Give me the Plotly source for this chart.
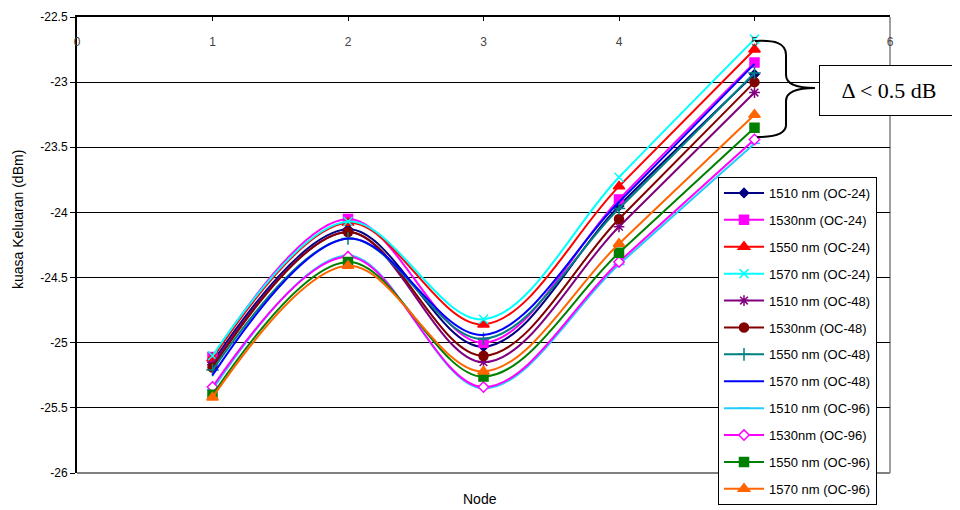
import plotly.graph_objects as go

# ---------------- data ----------------
nodes = [1, 2, 3, 4, 5]

series_names = [
    "1510 nm (OC-24)", "1530nm (OC-24)", "1550 nm (OC-24)", "1570 nm (OC-24)",
    "1510 nm (OC-48)", "1530nm (OC-48)", "1550 nm (OC-48)", "1570 nm (OC-48)",
    "1510 nm (OC-96)", "1530nm (OC-96)", "1550 nm (OC-96)", "1570 nm (OC-96)",
]

s1510_oc24 = [-25.15, -24.13, -25.03, -23.95, -22.94]
s1530_oc24 = [-25.11, -24.05, -25.00, -23.90, -22.85]
s1550_oc24 = [-25.12, -24.08, -24.86, -23.80, -22.75]
s1570_oc24 = [-25.10, -24.07, -24.82, -23.73, -22.67]
s1510_oc48 = [-25.17, -24.15, -25.15, -24.11, -23.08]
s1530_oc48 = [-25.19, -24.15, -25.10, -24.05, -23.00]
s1550_oc48 = [-25.21, -24.20, -24.97, -23.97, -22.93]
s1570_oc48 = [-25.25, -24.20, -24.94, -23.92, -22.86]
s1510_oc96 = [-25.36, -24.33, -25.35, -24.40, -23.47]
s1530_oc96 = [-25.34, -24.34, -25.34, -24.38, -23.44]
s1550_oc96 = [-25.40, -24.38, -25.26, -24.31, -23.35]
s1570_oc96 = [-25.42, -24.41, -25.22, -24.24, -23.25]

series_values = [
    s1510_oc24, s1530_oc24, s1550_oc24, s1570_oc24,
    s1510_oc48, s1530_oc48, s1550_oc48, s1570_oc48,
    s1510_oc96, s1530_oc96, s1550_oc96, s1570_oc96,
]

x_tick_vals = [0, 1, 2, 3, 4, 5, 6]
y_tick_vals = [-26, -25.5, -25, -24.5, -24, -23.5, -23, -22.5]
y_tick_text = ["-26", "-25.5", "-25", "-24.5", "-24", "-23.5", "-23", "-22.5"]

# ---------------- styles ----------------
styles = [
    dict(color="#000080", symbol="diamond", size=7, fill="#000080"),
    dict(color="#FF00FF", symbol="square", size=9, fill="#FF00FF"),
    dict(color="#FF0000", symbol="triangle-up", size=10, fill="#FF0000"),
    dict(color="#00FFFF", symbol="x-thin-open", size=9, fill="#00FFFF"),
    dict(color="#800080", symbol="asterisk-open", size=9, fill="#800080"),
    dict(color="#800000", symbol="circle", size=9, fill="#800000"),
    dict(color="#008080", symbol="cross-thin-open", size=9, fill="#008080"),
    dict(color="#0000FF", symbol=None, size=0, fill="#0000FF"),
    dict(color="#22CCFF", symbol="line-ew-open", size=8, fill="#22CCFF"),
    dict(color="#FF00FF", symbol="diamond", size=8, fill="#FFFFFF"),
    dict(color="#008000", symbol="square", size=9, fill="#008000"),
    dict(color="#FF6600", symbol="triangle-up", size=10, fill="#FF6600"),
]

fig = go.Figure()
for i, (name, vals, st) in enumerate(zip(series_names, series_values, styles)):
    if st["symbol"] is None:
        mode = "lines"
        marker = None
    else:
        mode = "lines+markers"
        marker = dict(symbol=st["symbol"], size=st["size"], color=st["fill"],
                      line=dict(color=st["color"], width=1.5))
    fig.add_trace(go.Scatter(
        x=nodes, y=vals, name=name, mode=mode,
        line=dict(color=st["color"], width=2, shape="spline", smoothing=1.0),
        marker=marker, legendgroup="g%d" % i,
    ))

# ---------------- layout geometry (pixels) ----------------
# page has an 8px body margin, so the figure is offset by 8px in the screenshot
OFF = 8
W, H = 960 - OFF, 510 - OFF
PL, PR, PT, PB = 77, 890, 17, 473        # plot area in screenshot pixels
L, T = PL - OFF, PT - OFF
R, B = W - (PR - OFF), H - (PB - OFF)
pw, ph = PR - PL, PB - PT


def px2paper(px, py):
    return (px - PL) / pw, (PB - py) / ph


# curly brace (decoration)
pts = [(755, 41), (775, 40), (786, 43), (786, 55), (786, 75), (786, 84), (795, 88), (815, 88),
       (795, 88), (786, 92), (786, 101), (786, 125), (786, 134), (775, 137), (757, 137)]
pp = [px2paper(a, b) for a, b in pts]
f = lambda p: "%.4f,%.4f" % p
path = ("M " + f(pp[0]) + " C " + f(pp[1]) + " " + f(pp[2]) + " " + f(pp[3]) +
        " L " + f(pp[4]) + " C " + f(pp[5]) + " " + f(pp[6]) + " " + f(pp[7]) +
        " C " + f(pp[8]) + " " + f(pp[9]) + " " + f(pp[10]) +
        " L " + f(pp[11]) + " C " + f(pp[12]) + " " + f(pp[13]) + " " + f(pp[14]))

shapes = [
    # grey plot-area border (bottom and right)
    dict(type="line", xref="paper", yref="paper", x0=0, x1=1, y0=0, y1=0,
         line=dict(color="#808080", width=2), layer="above"),
    dict(type="line", xref="paper", yref="paper", x0=1, x1=1, y0=0, y1=1,
         line=dict(color="#808080", width=1.5), layer="below"),
    dict(type="path", xref="paper", yref="paper", path=path,
         line=dict(color="#000000", width=2), layer="above"),
]

tx, ty = px2paper(819, 91)
ylx, yly = px2paper(18, 220)
nx, ny = px2paper(480, 499)

annotations = [
    dict(xref="paper", yref="paper", x=tx, y=ty, xanchor="left", yanchor="middle",
         text="Δ < 0.5 dB", showarrow=False,
         font=dict(family="Liberation Serif, DejaVu Serif, serif", size=22, color="#000000"),
         bordercolor="#000000", borderwidth=1, borderpad=12, bgcolor="#FFFFFF",
         width=114, align="center"),
    dict(xref="paper", yref="paper", x=ylx, y=yly, xanchor="center", yanchor="middle",
         text="kuasa Keluaran (dBm)", textangle=-90, showarrow=False,
         font=dict(family="Liberation Sans, Arial, sans-serif", size=14, color="#000000")),
    dict(xref="paper", yref="paper", x=nx, y=ny, xanchor="center", yanchor="middle",
         text="Node", showarrow=False,
         font=dict(family="Liberation Sans, Arial, sans-serif", size=14, color="#000000")),
]

lgx, lgy = px2paper(718, 177)

fig.update_layout(
    width=W, height=H,
    margin=dict(l=L, r=R, t=T, b=B, autoexpand=False),
    paper_bgcolor="#FFFFFF", plot_bgcolor="#FFFFFF",
    font=dict(family="Liberation Sans, Arial, sans-serif", size=12, color="#000000"),
    showlegend=True,
    legend=dict(x=lgx, y=lgy, xanchor="left", yanchor="top",
                bgcolor="#FFFFFF", bordercolor="#000000", borderwidth=1,
                font=dict(size=13, color="#000000"), tracegroupgap=7,
                itemwidth=40),
    xaxis=dict(range=[0, 6], side="top", tickvals=x_tick_vals,
               ticks="inside", ticklen=4, tickcolor="#000000",
               ticklabelposition="inside", ticklabelstandoff=16,
               ticklabeloverflow="allow",
               showline=True, linecolor="#000000", linewidth=2,
               showgrid=False, zeroline=False, fixedrange=True),
    yaxis=dict(range=[-26, -22.5], tickvals=y_tick_vals, ticktext=y_tick_text,
               ticks="outside", ticklen=5, tickcolor="#000000",
               ticklabeloverflow="allow",
               showline=True, linecolor="#000000", linewidth=2,
               showgrid=True, gridcolor="#000000", gridwidth=1,
               zeroline=False, fixedrange=True),
    shapes=shapes,
    annotations=annotations,
)

fig.write_html("out.html")
